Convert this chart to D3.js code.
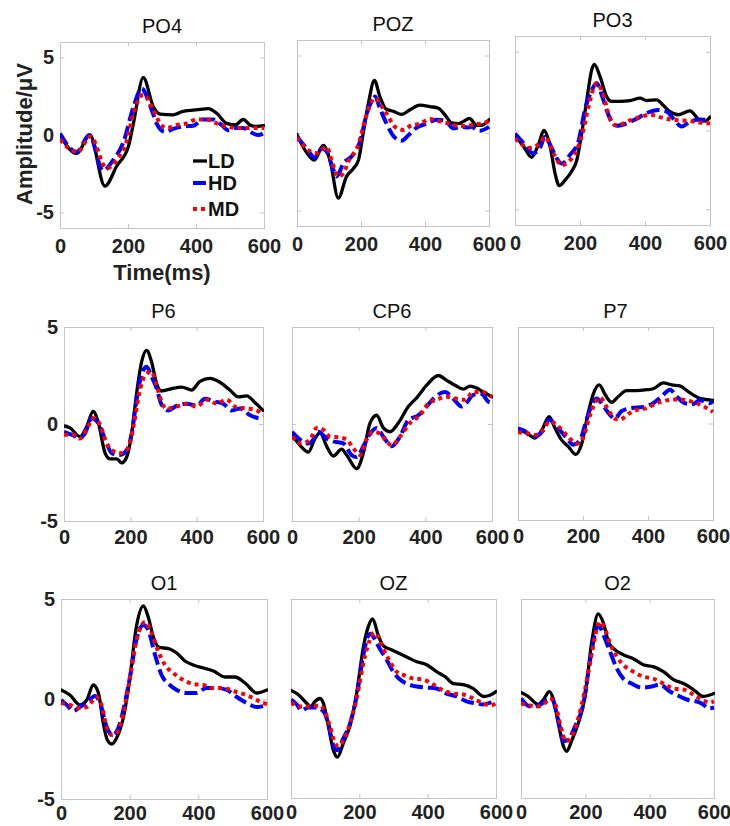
<!DOCTYPE html>
<html><head><meta charset="utf-8">
<script src="https://cdn.jsdelivr.net/npm/d3@7"></script>
<style>body{margin:0;background:#fff}svg{display:block}</style>
</head><body><svg id="chart" width="730" height="826"></svg>
<script>
// ---------- data (time in ms, amplitude in µV) ----------
const channels = ["PO4","POZ","PO3","P6","CP6","P7","O1","OZ","O2"];
const seriesNames = ["LD","HD","MD"];
const xTicks = [0,200,400,600];
const yTicks = [-5,0,5];
const xDomain = [0,600];
const yDomainRow1 = [-6,6];
const yDomainRows23 = [-5,5];

const PO4_LD = [[0,0],[49,-1.2],[88,0],[132,-3.3],[167,-2.0],[201,-0.75],[216,0.75],[245,3.7],[275,1.8],[294,1.35],[333,1.3],[358,1.5],[412,1.65],[436,1.7],[461,1.4],[490,0.75],[515,0.65],[539,1.0],[559,0.65],[578,0.55],[600,0.6]];
const PO4_HD = [[0,0.1],[49,-1.1],[86,0],[127,-2.3],[157,-1.6],[186,-0.5],[216,1.8],[240,3.0],[270,1.6],[284,0.75],[309,0.2],[333,0.4],[363,0.55],[392,0.6],[421,1.0],[451,1.0],[475,0.65],[495,0.3],[515,0.45],[539,0.45],[559,0.2],[583,0],[600,0.15]];
const PO4_MD = [[0,-0.3],[51,-1.1],[90,-0.1],[137,-2.15],[167,-1.6],[196,-0.4],[216,1.4],[245,2.6],[275,1.6],[294,0.75],[314,0.45],[343,0.65],[373,0.75],[402,1.0],[431,1.0],[461,0.75],[490,0.55],[520,0.45],[560,0.45],[600,0.45]];

const POZ_LD = [[0,-0.1],[25,-1.1],[54,-1.75],[82,-0.8],[103,-1.75],[129,-4.2],[155,-2.8],[176,-2.3],[192,-1.75],[207,0],[223,1.9],[242,3.4],[259,2.35],[278,1.55],[301,1.4],[327,1.2],[353,1.5],[384,1.8],[416,1.7],[442,1.6],[463,1.15],[483,0.65],[504,0.6],[520,0.75],[539,0.95],[561,0.5],[577,0.5],[600,0.85]];
const POZ_HD = [[0,-0.25],[30,-1.0],[56,-1.6],[77,-1.0],[93,-1.2],[114,-2.4],[124,-2.8],[145,-1.95],[171,-1.5],[197,-0.55],[218,1.25],[239,2.25],[244,2.35],[259,1.6],[280,0.6],[306,-0.3],[327,-0.5],[348,-0.15],[374,0.35],[405,0.6],[436,0.85],[463,0.8],[489,0.3],[515,0.4],[535,0.35],[546,0.4],[561,0.2],[572,0.15],[600,0.4]];
const POZ_MD = [[0,-0.3],[35,-1.1],[61,-1.3],[93,-0.9],[108,-1.75],[129,-2.8],[145,-2.6],[160,-1.85],[192,-0.75],[213,0.85],[228,1.8],[244,2.25],[265,1.7],[280,1.25],[306,0.4],[332,0.2],[358,0.5],[384,0.6],[416,0.9],[447,0.75],[478,0.6],[509,0.45],[541,0.5],[572,0.6],[600,0.75]];

const PO3_LD = [[0,-0.3],[26,-1.0],[51,-1.7],[72,-0.9],[89,0],[108,-1.0],[123,-2.7],[136,-3.5],[154,-3.15],[174,-2.6],[190,-1.9],[205,-0.2],[221,1.95],[236,3.85],[244,4.2],[262,3.4],[282,2.15],[297,1.85],[323,1.85],[354,1.9],[385,2.05],[405,1.9],[436,1.95],[456,1.6],[477,1.2],[503,1.0],[538,1.25],[569,0.65],[585,0.6],[600,0.85]];
const PO3_HD = [[0,-0.2],[26,-0.8],[56,-1.45],[77,-1.1],[92,-0.4],[108,-0.9],[128,-1.75],[144,-2.1],[169,-1.55],[195,-0.7],[215,1.3],[236,2.55],[251,3.0],[267,2.25],[282,1.3],[297,0.55],[313,0.3],[344,0.45],[374,0.75],[405,1.1],[441,1.3],[467,1.2],[487,0.75],[513,0.25],[538,0.55],[569,0.7],[600,0.65]];
const PO3_MD = [[0,-0.5],[46,-1.1],[77,-0.8],[92,-0.4],[118,-1.45],[144,-2.2],[164,-2.0],[190,-1.25],[210,0],[226,1.5],[251,3.0],[272,2.25],[287,1.1],[308,0.35],[328,0.4],[354,0.65],[385,0.85],[415,1.0],[446,0.85],[477,0.7],[508,0.65],[538,0.6],[569,0.5],[600,0.45]];

const P6_LD = [[0,-0.1],[18,-0.2],[48,-0.65],[68,-0.15],[88,0.65],[103,0.1],[124,-1.5],[139,-1.8],[159,-1.8],[174,-2.0],[189,-1.7],[204,-0.5],[219,1.6],[234,3.2],[249,3.8],[264,3.2],[279,2.1],[294,1.7],[320,1.8],[355,1.9],[385,1.75],[410,2.2],[440,2.35],[470,2.15],[500,1.75],[526,1.4],[551,1.45],[576,1.1],[600,0.7]];
const P6_HD = [[0,-0.4],[23,-0.55],[48,-0.7],[63,-0.5],[83,0.3],[103,0.05],[124,-0.8],[144,-1.5],[169,-1.6],[189,-1.35],[204,-0.5],[219,1.25],[234,2.55],[249,2.95],[264,2.45],[279,1.85],[294,1.0],[314,0.7],[340,0.95],[370,1.05],[400,0.95],[425,1.3],[456,1.15],[480,1.05],[506,0.7],[531,0.8],[561,0.45],[591,0.3],[600,0.4]];
const P6_MD = [[0,-0.55],[28,-0.55],[48,-0.75],[68,-0.3],[88,0.3],[109,-0.05],[124,-0.8],[144,-1.35],[169,-1.5],[194,-1.25],[209,-0.15],[229,1.75],[244,2.5],[264,2.7],[279,2.0],[294,1.15],[309,0.8],[340,0.9],[370,1.05],[400,0.9],[431,1.25],[461,1.05],[490,1.25],[521,0.85],[551,0.8],[581,0.7],[600,0.45]];

const CP6_LD = [[0,-0.55],[24,-1.1],[49,-1.45],[69,-0.75],[84,-0.45],[104,-1.15],[124,-1.65],[149,-1.3],[164,-1.6],[194,-2.3],[214,-1.5],[234,0.05],[254,0.45],[274,-0.2],[294,-0.4],[319,0.05],[349,0.9],[374,1.35],[404,2.0],[439,2.5],[464,2.25],[489,2.0],[514,1.8],[534,1.95],[554,1.85],[574,1.65],[600,1.4]];
const CP6_HD = [[0,-0.4],[24,-0.8],[49,-1.0],[64,-0.8],[79,-0.4],[104,-0.75],[124,-0.9],[154,-1.0],[179,-1.6],[194,-1.7],[214,-1.15],[234,-0.5],[254,-0.2],[274,-0.65],[299,-1.15],[324,-0.65],[349,0.2],[379,0.45],[404,0.9],[424,1.3],[459,1.65],[484,1.3],[509,0.9],[524,1.1],[544,1.5],[569,1.55],[589,1.15],[600,1.1]];
const CP6_MD = [[0,-0.65],[29,-1.0],[54,-0.8],[74,-0.2],[94,-0.3],[114,-0.65],[144,-0.7],[164,-0.8],[184,-1.25],[204,-1.6],[224,-0.8],[244,-0.4],[264,-0.5],[284,-0.9],[299,-1.1],[324,-0.65],[354,0.05],[384,0.45],[409,1.05],[434,1.25],[464,1.4],[494,1.3],[519,1.25],[544,1.65],[569,1.65],[600,1.4]];

const P7_LD = [[0,-0.3],[27,-0.5],[52,-0.75],[73,-0.35],[96,0.35],[114,-0.25],[134,-0.85],[155,-1.2],[178,-1.6],[196,-1.05],[216,0.55],[232,1.55],[250,2.0],[268,1.5],[288,1.1],[309,1.4],[334,1.7],[365,1.7],[396,1.75],[416,1.8],[447,2.1],[473,2.0],[498,1.95],[524,1.65],[560,1.3],[600,1.2]];
const P7_HD = [[0,-0.25],[22,-0.4],[42,-0.7],[57,-0.65],[78,-0.35],[96,0.2],[124,-0.25],[150,-0.75],[170,-1.1],[191,-0.85],[211,0.2],[227,0.95],[242,1.3],[263,0.9],[283,0.45],[298,0.25],[319,0.65],[350,0.8],[386,0.85],[416,1.05],[442,1.4],[468,1.75],[488,1.4],[514,1.05],[535,1.0],[560,1.2],[591,1.05],[600,1.15]];
const P7_MD = [[0,-0.45],[27,-0.5],[52,-0.6],[73,-0.4],[98,0.1],[124,-0.15],[150,-0.6],[181,-1.05],[201,-0.7],[222,0.45],[242,1.2],[252,1.35],[273,0.85],[298,0.25],[314,0.2],[340,0.5],[365,0.7],[396,0.8],[427,1.05],[457,1.2],[488,1.25],[519,1.2],[550,1.05],[575,0.85],[600,0.6]];

const O1_LD = [[0,0.45],[26,0.2],[55,-0.3],[75,-0.05],[94,0.7],[109,0.3],[123,-1.2],[135,-2.05],[148,-2.25],[162,-1.95],[182,-0.9],[201,1.1],[218,3.45],[240,4.65],[254,4.1],[269,3.1],[284,2.6],[317,2.5],[337,2.3],[361,1.9],[385,1.7],[415,1.55],[444,1.4],[478,1.1],[507,1.1],[536,0.8],[570,0.3],[600,0.45]];
const O1_HD = [[0,-0.05],[17,-0.3],[36,-0.6],[55,-0.4],[75,-0.2],[99,0.15],[114,-0.2],[133,-1.4],[150,-1.8],[167,-1.45],[186,-0.2],[201,1.1],[218,2.85],[240,3.7],[254,3.45],[274,2.2],[293,1.2],[317,0.7],[337,0.45],[366,0.3],[395,0.3],[423,0.55],[453,0.55],[483,0.45],[512,0.1],[541,-0.2],[570,-0.4],[600,-0.3]];
const O1_MD = [[0,-0.2],[26,-0.3],[50,-0.45],[75,-0.4],[104,0.1],[118,-0.3],[133,-1.4],[148,-1.8],[162,-1.7],[182,-0.7],[201,1.1],[220,2.95],[245,3.85],[264,3.3],[284,2.35],[303,1.7],[327,1.3],[356,0.95],[385,0.75],[415,0.7],[444,0.55],[473,0.55],[502,0.4],[531,0.25],[560,0.05],[589,-0.2],[600,-0.25]];

const OZ_LD = [[0,0.4],[21,0.2],[41,-0.15],[58,-0.4],[70,-0.15],[85,0],[95,-0.25],[109,-1.35],[124,-2.6],[136,-2.95],[153,-2.25],[173,-1.35],[192,0.25],[212,2.6],[226,3.6],[239,4.0],[255,3.2],[270,2.65],[294,2.45],[319,2.25],[343,2.05],[368,1.85],[397,1.7],[426,1.35],[451,1.1],[475,0.75],[504,0.7],[534,0.5],[563,0.1],[580,0.15],[600,0.35]];
const OZ_HD = [[0,-0.05],[17,-0.3],[31,-0.6],[51,-0.45],[75,-0.45],[95,-0.65],[109,-1.25],[124,-2.35],[134,-2.6],[153,-2.0],[173,-1.25],[192,0.1],[212,2.2],[226,3.15],[233,3.25],[246,2.95],[260,2.5],[280,1.95],[299,1.35],[319,0.95],[338,0.75],[368,0.6],[397,0.55],[426,0.5],[455,0.25],[485,0.1],[514,-0.15],[543,-0.25],[563,-0.3],[592,-0.15],[600,-0.1]];
const OZ_MD = [[0,-0.2],[26,-0.4],[56,-0.4],[85,-0.35],[99,-0.65],[114,-1.4],[129,-2.25],[139,-2.4],[153,-2.1],[173,-1.25],[192,0],[216,2.1],[231,2.95],[243,3.3],[255,3.1],[270,2.5],[290,1.85],[309,1.35],[334,1.15],[358,1.0],[387,0.95],[417,0.7],[446,0.4],[475,0.25],[504,0.2],[534,0],[563,-0.25],[583,-0.35],[600,-0.25]];

const O2_LD = [[0,0.3],[23,0.1],[54,-0.3],[70,-0.05],[88,0.35],[101,-0.05],[116,-1.25],[132,-2.4],[142,-2.65],[158,-2.1],[178,-1.25],[199,0.1],[220,2.85],[240,4.25],[256,3.8],[272,2.85],[292,2.45],[318,2.2],[349,2.0],[380,1.7],[411,1.6],[443,1.35],[474,0.95],[505,0.75],[536,0.45],[567,0.1],[582,0.15],[600,0.25]];
const O2_HD = [[0,0],[28,-0.4],[54,-0.35],[80,-0.1],[96,-0.05],[116,-1.1],[132,-2.15],[147,-2.05],[168,-1.4],[194,-0.25],[215,1.95],[233,3.45],[240,3.7],[256,3.2],[277,2.35],[298,1.5],[318,1.0],[344,0.75],[375,0.55],[406,0.6],[432,0.7],[463,0.35],[494,0.1],[515,-0.05],[546,-0.15],[567,-0.3],[582,-0.5],[600,-0.45]];
const O2_MD = [[0,-0.25],[28,-0.35],[54,-0.4],[80,-0.15],[90,0],[106,-0.25],[121,-1.25],[140,-2.15],[158,-1.9],[178,-1.0],[199,0.45],[220,2.25],[236,3.5],[246,3.85],[261,3.5],[277,2.75],[298,2.1],[324,1.6],[349,1.35],[380,1.1],[411,1.0],[443,0.75],[474,0.5],[505,0.45],[536,0.2],[567,-0.1],[588,-0.2],[600,-0.15]];

const panelData = [
  [PO4_LD, PO4_HD, PO4_MD], [POZ_LD, POZ_HD, POZ_MD], [PO3_LD, PO3_HD, PO3_MD],
  [P6_LD, P6_HD, P6_MD], [CP6_LD, CP6_HD, CP6_MD], [P7_LD, P7_HD, P7_MD],
  [O1_LD, O1_HD, O1_MD], [OZ_LD, OZ_HD, OZ_MD], [O2_LD, O2_HD, O2_MD]
];

// ---------- layout & style ----------
const boxes = [
  {x0:60,x1:264,y0:42,y1:228},{x0:297,x1:489,y0:40,y1:226},{x0:515,x1:710,y0:36,y1:225},
  {x0:64,x1:263,y0:327,y1:521},{x0:292,x1:492,y0:327,y1:521},{x0:518,x1:713,y0:327,y1:520},
  {x0:61,x1:267,y0:599,y1:799},{x0:291,x1:496,y0:599,y1:798},{x0:521,x1:714,y0:599,y1:798}
];
const xLabelPad = [11,11,11,9,9,9,7,7,7];
const styles = [
  {color:"#000000", width:3.3, dash:null},
  {color:"#0000ff", width:4, dash:"13,5"},
  {color:"#ff0000", width:4, dash:"4,4"}
];
const FONT = "'Liberation Sans', Arial, sans-serif";
const frameColor = "#c4c4c4";

const svg = d3.select("#chart");
svg.append("rect").attr("width",730).attr("height",826).attr("fill","#fff");
const defs = svg.append("defs");

channels.forEach((name, i) => {
  const b = boxes[i];
  const x = d3.scaleLinear().domain(xDomain).range([b.x0, b.x1]);
  const y = d3.scaleLinear().domain(i < 3 ? yDomainRow1 : yDomainRows23).range([b.y1, b.y0]);
  const g = svg.append("g");

  const styleAxis = sel => {
    sel.select(".domain").remove();
    sel.selectAll(".tick line").attr("stroke", frameColor).attr("stroke-width",1);
    sel.selectAll("text").attr("font-family",FONT).attr("font-weight","bold").attr("font-size",20).attr("fill","#222");
  };
  g.append("g").attr("transform",`translate(0,${b.y1})`)
    .call(d3.axisBottom(x).tickValues(xTicks).tickSizeInner(-4).tickSizeOuter(0).tickPadding(xLabelPad[i]).tickFormat(d=>String(d)))
    .call(styleAxis);
  g.append("g").attr("transform",`translate(0,${b.y0})`)
    .call(d3.axisTop(x).tickValues(xTicks).tickSizeInner(-4).tickSizeOuter(0).tickFormat(""))
    .call(styleAxis);
  g.append("g").attr("transform",`translate(${b.x0},0)`)
    .call(d3.axisLeft(y).tickValues(yTicks).tickSizeInner(-4).tickSizeOuter(0).tickPadding(6)
      .tickFormat(i % 3 === 0 ? (d=>String(d)) : ""))
    .call(styleAxis);
  g.append("g").attr("transform",`translate(${b.x1},0)`)
    .call(d3.axisRight(y).tickValues(yTicks).tickSizeInner(-4).tickSizeOuter(0).tickFormat(""))
    .call(styleAxis);

  g.append("rect").attr("x",b.x0+0.5).attr("y",b.y0+0.5)
    .attr("width",b.x1-b.x0).attr("height",b.y1-b.y0)
    .attr("fill","none").attr("stroke",frameColor).attr("stroke-width",1);

  g.append("text").attr("x",(b.x0+b.x1)/2).attr("y",b.y0-9)
    .attr("text-anchor","middle").attr("font-family",FONT).attr("font-size",20)
    .attr("fill","#111").text(name);

  const cid = "clip"+i;
  defs.append("clipPath").attr("id",cid).append("rect")
    .attr("x",b.x0).attr("y",b.y0).attr("width",b.x1-b.x0+1).attr("height",b.y1-b.y0+1);

  const line = d3.line().x(d=>x(d[0])).y(d=>y(d[1])).curve(d3.curveMonotoneX);
  const lg = g.append("g").attr("clip-path",`url(#${cid})`);
  panelData[i].forEach((series, s) => {
    const st = styles[s];
    const p = lg.append("path").datum(series).attr("d",line)
      .attr("fill","none").attr("stroke",st.color).attr("stroke-width",st.width)
      .attr("stroke-linejoin","round");
    if (st.dash) p.attr("stroke-dasharray",st.dash).attr("stroke-linecap","butt");
    else p.attr("stroke-linecap","round");
  });
});

// legend in first panel
const legY = [161,183,209];
const leg = svg.append("g");
seriesNames.forEach((n, s) => {
  const st = styles[s];
  const l = leg.append("line").attr("x1",193).attr("x2",207).attr("y1",legY[s]).attr("y2",legY[s])
    .attr("stroke",st.color).attr("stroke-width",st.width);
  if (st.dash) l.attr("stroke-dasharray",st.dash);
  leg.append("text").attr("x",208).attr("y",legY[s]).attr("dy","0.36em")
    .attr("font-family",FONT).attr("font-weight","bold").attr("font-size",20).attr("fill","#111").text(n);
});

// axis labels
svg.append("text").attr("x",162).attr("y",280).attr("text-anchor","middle")
  .attr("font-family",FONT).attr("font-weight","bold").attr("font-size",22).attr("fill","#222")
  .text("Time(ms)");
svg.append("text").attr("transform","translate(32,134) rotate(-90)").attr("text-anchor","middle")
  .attr("font-family",FONT).attr("font-weight","bold").attr("font-size",22).attr("fill","#222")
  .text("Amplitude/μV");
</script></body></html>
